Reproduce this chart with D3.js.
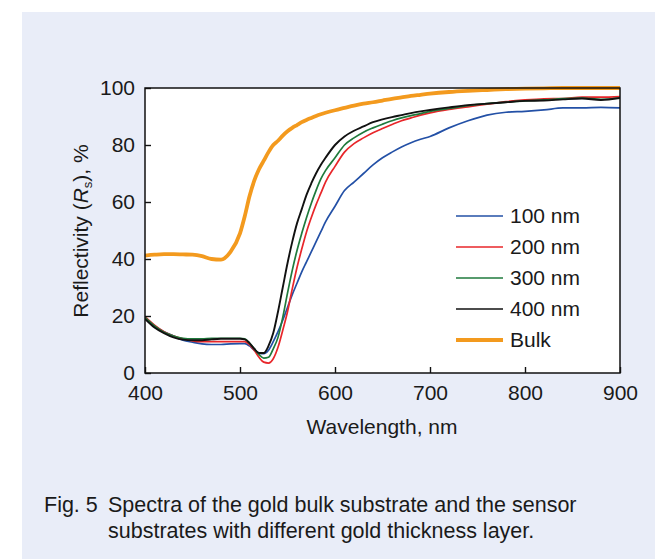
<!DOCTYPE html>
<html>
<head>
<meta charset="utf-8">
<script src="https://cdn.jsdelivr.net/npm/d3@7"></script>
<style>
  body { margin: 0; background: #fff; }
  svg { display: block; font-family: "Liberation Sans", Arial, sans-serif; }
</style>
</head>
<body>
<script>
// Reflectivity spectra: gold bulk vs sensor substrates

const wavelengths = [400, 410, 420, 430, 440, 450, 460, 470, 480, 490, 500, 505, 510, 515, 520, 525, 530, 535, 540, 545,
  550, 555, 560, 565, 570, 575, 580, 585, 590, 600, 610, 620, 630, 640, 650, 660, 670, 680, 690, 700,
  720, 740, 760, 780, 800, 820, 840, 860, 880, 900];

const nm100 = [19.5, 16.5, 14.5, 13, 11.5, 10.8, 10.2, 10, 10, 10.2, 10.3, 10.3, 9.5, 8, 7, 6.8, 8, 11, 14.5, 18.5,
  23, 27.5, 31.5, 35.5, 39, 42.5, 46, 49.5, 53, 58.5, 64, 67, 70, 73, 75.5, 77.5, 79.3, 80.8, 82, 83,
  86, 88.5, 90.5, 91.5, 91.8, 92.3, 93, 93, 93.2, 93];
const nm200 = [19.8, 16.8, 14.5, 13, 12, 11.3, 11, 11, 11, 11, 11, 11, 10, 8, 5.5, 3.8, 3.5, 5, 9, 15,
  21.5, 29.5, 37, 43.5, 49.5, 54.5, 59, 63, 67, 72.5, 77.5, 80.5, 82.5, 84.3, 85.8, 87.2, 88.5, 89.5, 90.5, 91.3,
  92.5, 93.4, 94.3, 95.2, 95.8, 96.2, 96.3, 96.8, 96.8, 97];
const nm300 = [19.5, 16.5, 14.3, 13, 12.2, 12, 12, 12.2, 12.2, 12.2, 12.2, 12, 10.5, 8.5, 6.5, 5.2, 5.5, 8.5, 12.5, 19.5,
  28, 36, 43, 49, 54.5, 59.5, 64, 68, 71, 75.5, 80, 82.5, 84.5, 86, 87.3, 88.5, 89.5, 90.3, 91, 91.8,
  92.8, 93.8, 94.5, 95, 95.5, 95.8, 96.3, 96.5, 96, 96.5];
const nm400 = [19, 16, 14, 12.5, 11.7, 11.5, 11.5, 11.8, 12, 12, 12, 11.8, 10.5, 8.5, 7, 7, 9.5, 14, 21.5, 30,
  38.5, 46, 52.5, 57.5, 62.5, 66.5, 70, 73, 75.5, 80, 83, 85, 86.5, 88, 89, 89.8, 90.5, 91.2, 91.8, 92.3,
  93.2, 94, 94.5, 95, 95.5, 95.6, 96, 96.3, 95.8, 96.5];
const bulk = [41.2, 41.5, 41.7, 41.7, 41.6, 41.5, 41, 40, 39.8, 42.5, 49, 55, 62, 67.5, 71.5, 74.5, 77.5, 80, 81.5, 83.3,
  84.8, 86, 87, 88, 88.8, 89.5, 90.2, 90.8, 91.3, 92.2, 93, 93.8, 94.5, 95, 95.6, 96.2, 96.7, 97.2, 97.6, 98,
  98.6, 99, 99.3, 99.6, 99.8, 99.9, 100, 100, 100, 100];

const seriesNames = ["100 nm", "200 nm", "300 nm", "400 nm", "Bulk"];
const seriesColors = ["#2350a6", "#e8262a", "#1f7a3c", "#111111", "#f39a1e"];
const seriesWidths = [1.7, 1.7, 1.7, 1.9, 3.8];

const xTicks = [400, 500, 600, 700, 800, 900];
const yTicks = [0, 20, 40, 60, 80, 100];

const W = 655, H = 559;
const plot = { left: 145, top: 88, right: 620, bottom: 373 };
const fs = 21;

const svg = d3.select("body").append("svg")
  .attr("width", W)
  .attr("height", H);

// page panel
svg.append("rect")
  .attr("x", 22).attr("y", 12)
  .attr("width", W - 22).attr("height", H - 12)
  .attr("fill", "#e9edf8");

const x = d3.scaleLinear().domain([400, 900]).range([plot.left, plot.right]);
const y = d3.scaleLinear().domain([0, 100]).range([plot.bottom, plot.top]);

svg.append("rect")
  .attr("x", plot.left).attr("y", plot.top)
  .attr("width", plot.right - plot.left).attr("height", plot.bottom - plot.top)
  .attr("fill", "#fff");

const series = [nm100, nm200, nm300, nm400, bulk];

svg.append("clipPath").attr("id", "clip")
  .append("rect")
  .attr("x", plot.left).attr("y", plot.top - 2)
  .attr("width", plot.right - plot.left).attr("height", plot.bottom - plot.top + 2);

const line = d3.line()
  .x(d => x(d[0]))
  .y(d => y(d[1]))
  .curve(d3.curveMonotoneX);

const order = [4, 0, 1, 2, 3];
svg.append("g")
  .attr("clip-path", "url(#clip)")
  .selectAll("path")
  .data(order)
  .join("path")
    .attr("fill", "none")
    .attr("stroke", i => seriesColors[i])
    .attr("stroke-width", i => seriesWidths[i])
    .attr("stroke-linejoin", "round")
    .attr("d", i => line(wavelengths.map((w, k) => [w, series[i][k]])));

// axes with inward ticks
const xAxis = svg.append("g")
  .attr("transform", `translate(0,${plot.bottom})`)
  .call(d3.axisBottom(x).tickValues(xTicks).tickSize(-6).tickPadding(12).tickSizeOuter(0));
const yAxis = svg.append("g")
  .attr("transform", `translate(${plot.left},0)`)
  .call(d3.axisLeft(y).tickValues(yTicks).tickSize(-6).tickPadding(10).tickSizeOuter(0));

[xAxis, yAxis].forEach(g => {
  g.select(".domain").remove();
  g.selectAll("line").attr("stroke", "#111").attr("stroke-width", 1.4);
  g.selectAll("text").attr("font-size", fs).attr("fill", "#1a1a1a")
    .attr("font-family", "Liberation Sans, Arial, sans-serif");
});

svg.append("rect")
  .attr("x", plot.left).attr("y", plot.top)
  .attr("width", plot.right - plot.left).attr("height", plot.bottom - plot.top)
  .attr("fill", "none")
  .attr("stroke", "#111")
  .attr("stroke-width", 1.5);

// axis titles
svg.append("text")
  .attr("x", 382)
  .attr("y", 434)
  .attr("text-anchor", "middle")
  .attr("font-size", fs)
  .attr("fill", "#1a1a1a")
  .text("Wavelength, nm");

const yl = svg.append("text")
  .attr("transform", `translate(88,231) rotate(-90)`)
  .attr("text-anchor", "middle")
  .attr("font-size", fs)
  .attr("fill", "#1a1a1a");
yl.append("tspan").text("Reflectivity (");
yl.append("tspan").attr("font-style", "italic").text("R");
yl.append("tspan").attr("font-size", 13).attr("dy", 4).text("s");
yl.append("tspan").attr("dy", -4).text("), %");

// legend
const legend = svg.append("g").attr("transform", "translate(456,216)");
const rows = legend.selectAll("g")
  .data(seriesNames)
  .join("g")
    .attr("transform", (d, i) => `translate(0,${i * 31})`);
rows.append("line")
  .attr("x1", 0).attr("x2", 47)
  .attr("stroke", (d, i) => seriesColors[i])
  .attr("stroke-width", (d, i) => i === 4 ? 4 : 1.6);
rows.append("text")
  .attr("x", 54).attr("dy", "0.35em")
  .attr("font-size", fs)
  .attr("fill", "#1a1a1a")
  .text(d => d);

// caption
const cap = svg.append("g").attr("font-size", 21.5).attr("fill", "#1a1a1a");
cap.append("text").attr("x", 44).attr("y", 512).text("Fig. 5");
cap.append("text").attr("x", 108).attr("y", 512).text("Spectra of the gold bulk substrate and the sensor");
cap.append("text").attr("x", 108).attr("y", 538).text("substrates with different gold thickness layer.");
</script>
</body>
</html>
